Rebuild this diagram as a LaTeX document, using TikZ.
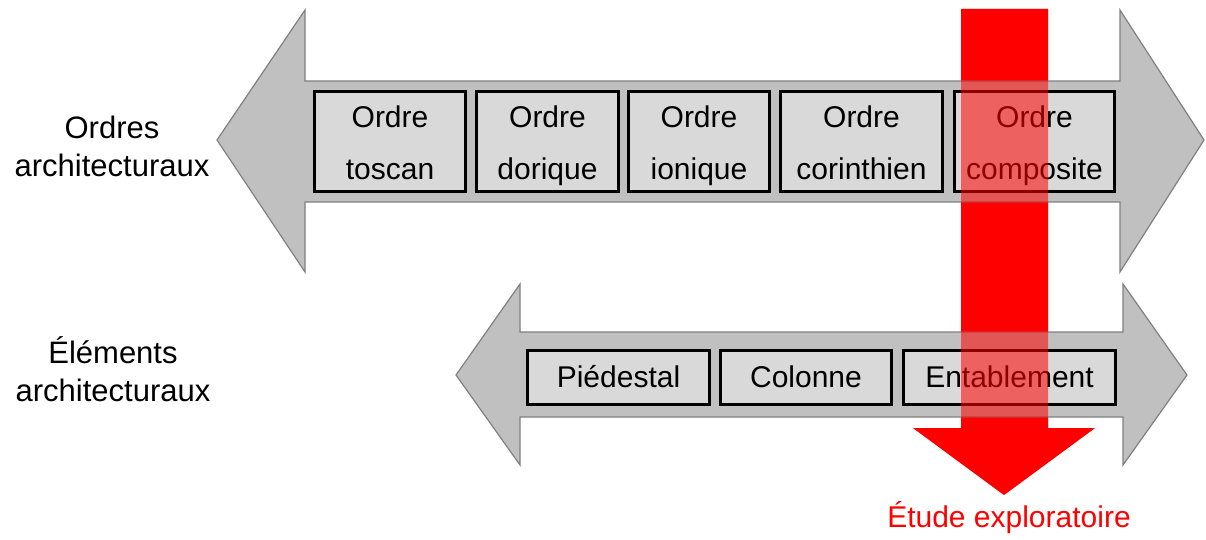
\documentclass[tikz,border=0pt]{standalone}
\usepackage{fontspec}
\setmainfont{Liberation Sans}
\usetikzlibrary{calc,positioning}
\definecolor{bandgray}{HTML}{C0C0C0}
\definecolor{boxgray}{HTML}{D9D9D9}
\definecolor{edgegray}{HTML}{808080}
\tikzset{
  band arrow/.style={fill=bandgray,draw=edgegray,line width=0.6pt,
    line join=miter},
  order box/.style={rectangle,draw=black,fill=boxgray,line width=1.5pt,
    minimum height=50pt,inner sep=0pt,align=center,
    font=\fontsize{15}{26}\selectfont},
  element box/.style={rectangle,draw=black,fill=boxgray,line width=1.5pt,
    minimum height=27pt,inner sep=0pt,text height=13pt,text depth=3pt,
    font=\fontsize{15}{18}\selectfont},
  level label/.style={align=center,font=\fontsize{15.5}{19}\selectfont},
  explore label/.style={text=red,font=\fontsize{15}{18}\selectfont}
}
\begin{document}
\begin{tikzpicture}[x=0.5pt,y=-0.5pt]
  \useasboundingbox (0,0) rectangle (1206,540);
  % red arrow, opaque pass
  \path[save path=\explorepath]
    (961,9) -- (1048,9) -- (1048,428) -- (1095,428) -- (1004,495)
    -- (913,428) -- (961,428) -- cycle;
  \fill[red,use path=\explorepath];
  % the two double arrows
  \draw[band arrow] (217,140) -- (305,10) -- (305,81) -- (1120,81)
    -- (1120,10) -- (1204,140) -- (1120,272) -- (1120,202)
    -- (305,202) -- (305,272) -- cycle;
  \draw[band arrow] (456,375) -- (520,284) -- (520,332) -- (1123,332)
    -- (1123,284) -- (1187,375) -- (1123,465) -- (1123,417)
    -- (520,417) -- (520,465) -- cycle;
  % orders
  \foreach \name/\cx/\w in {toscan/390/154,dorique/547.5/145,
      ionique/699/144,corinthien/861.5/165,composite/1034.5/163}
    \node[order box,minimum width={\w*0.5pt-1.5pt}]
      (ordre\name) at (\cx,141.5)
      {\rule{0pt}{15pt}Ordre\\\name\vphantom{dq}};
  % elements
  \foreach \name/\txt/\cx/\w in {piedestal/Piédestal/618.5/185,
      colonne/Colonne/806/174,entablement/Entablement/1009.5/215}
    \node[element box,minimum width={\w*0.5pt-1.5pt}]
      (element\name) at (\cx,377.5) {\txt};
  % red arrow, transparent pass over the grey
  \fill[red,fill opacity=0.55,use path=\explorepath];
  \node[level label] (ordreslabel) at (112,146) {Ordres\\architecturaux};
  \node[level label] (elementslabel) at (113,369) {Éléments\\architecturaux};
  \node[explore label] (etudelabel) at (1009,518) {Étude exploratoire};
\end{tikzpicture}
\end{document}
